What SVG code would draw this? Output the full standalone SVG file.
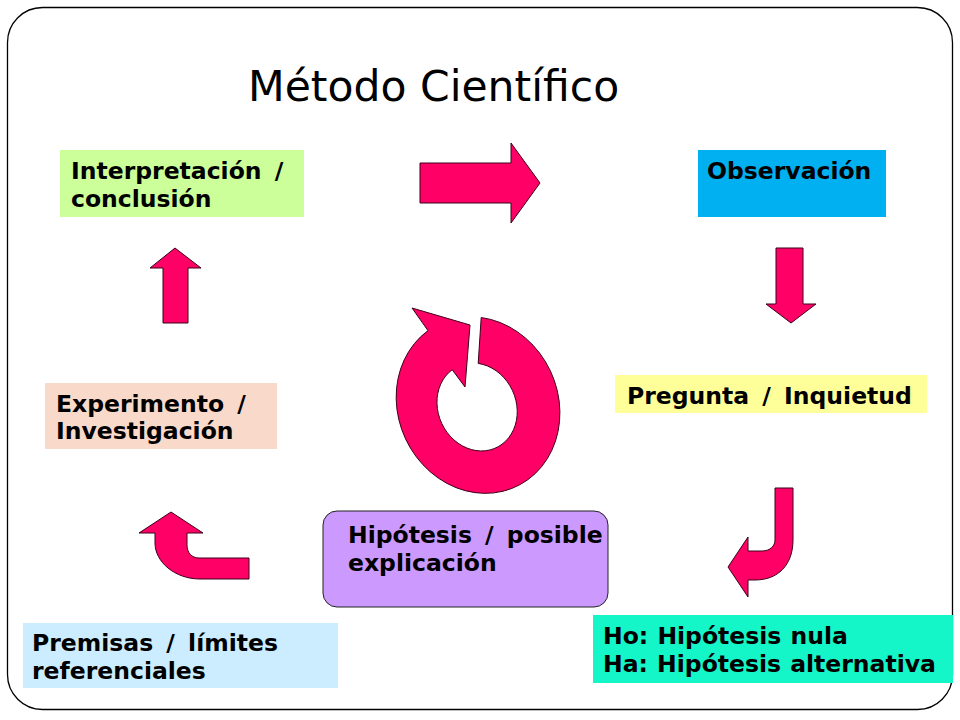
<svg xmlns="http://www.w3.org/2000/svg" width="960" height="720" viewBox="0 0 960 720">
<style>
.lbl{font-family:"DejaVu Sans","Liberation Sans",sans-serif;font-weight:bold;font-size:23.5px;fill:#000;word-spacing:1px}
.title{font-family:"DejaVu Sans","Liberation Sans",sans-serif;font-size:42.5px;fill:#000}
.arr{fill:#FF0066;stroke:#3a0018;stroke-width:1;stroke-linejoin:miter}
</style>
<rect x="0" y="0" width="960" height="720" fill="#fff"/>
<rect id="frame" x="7.5" y="7.5" width="945" height="702" rx="35" ry="35" fill="none" stroke="#000" stroke-width="1.3"/>
<text class="title" x="248" y="101">Método Científico</text>
<g id="connectors">
<path class="arr" d="M420,163 L511,163 L511,143 L540,183 L511,223 L511,203 L420,203 Z"/>
<path class="arr" d="M776,248 L803,248 L803,304 L816,304 L791,323 L766,304 L776,304 Z"/>
<path class="arr" d="M775,488 L793,488 L793,540 C793,565 778,580 755,580 L748,580 L748,597 L728,567 L748,537 L748,551 L762,551 C770,551 775,546 775,540 Z"/>
<path class="arr" d="M249,558 L249,579 L200,579 C175,579 155,562 155,543 L155,533 L139,533 L171,512 L203,533 L187,533 L187,545 C187,553 192,558 199,558 Z"/>
<path class="arr" d="M163,323 L188,323 L188,268 L201,268 L175,248 L150,268 L163,268 Z"/>
<path class="arr" d="M481.2,317.5 A80,90 -25 1 1 428,330.6 L412,308 L470,325 L465,387 L452.2,369.7 A39,45 -25 1 0 478.2,363.4 Z"/>
</g>
<g id="interpretacion">
<rect x="60" y="150" width="244" height="67" fill="#CCFF99"/>
<text class="lbl" x="71" y="179">Interpretación <tspan dx="4">/</tspan></text>
<text class="lbl" x="71" y="207">conclusión</text>
</g>
<g id="observacion">
<rect x="698" y="150" width="188" height="67" fill="#00B0F0"/>
<text class="lbl" x="707" y="179">Observación</text>
</g>
<g id="pregunta">
<rect x="615" y="375" width="312" height="38" fill="#FFFF99"/>
<text class="lbl" x="627" y="404">Pregunta <tspan dx="4">/ </tspan><tspan dx="4">Inquietud</tspan></text>
</g>
<g id="experimento">
<rect x="45" y="383" width="232" height="66" fill="#F8D9CA"/>
<text class="lbl" x="56" y="412">Experimento <tspan dx="4">/</tspan></text>
<text class="lbl" x="56" y="439">Investigación</text>
</g>
<g id="hipotesis">
<rect x="323" y="511" width="285" height="96" rx="14" ry="14" fill="#CC99FF" stroke="#222" stroke-width="1"/>
<text class="lbl" x="348" y="543">Hipótesis <tspan dx="4">/ </tspan><tspan dx="4">posible</tspan></text>
<text class="lbl" x="348" y="571">explicación</text>
</g>
<g id="premisas">
<rect x="23" y="623" width="315" height="65" fill="#CCECFF"/>
<text class="lbl" x="32" y="651">Premisas <tspan dx="4">/ </tspan><tspan dx="4">límites</tspan></text>
<text class="lbl" x="32" y="679">referenciales</text>
</g>
<g id="hipotesis-nula">
<rect x="593" y="615" width="360" height="68" fill="#14F5C8"/>
<text class="lbl" x="603" y="644">Ho: Hipótesis nula</text>
<text class="lbl" x="603" y="672">Ha: Hipótesis alternativa</text>
</g>
</svg>
